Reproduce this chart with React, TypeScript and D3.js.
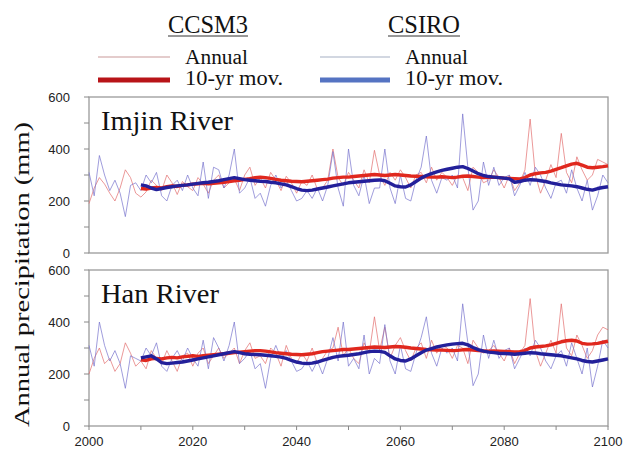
import React from "react";
import * as d3 from "d3";

// years 2000..2100
const years = d3.range(2000, 2101);
const movYears = d3.range(2010, 2101);

const imjinCCSM3 = [
  190, 250, 290, 265, 230, 200, 250, 320, 290, 230,
  215, 235, 280, 260, 240, 300, 270, 225, 275, 255,
  240, 290, 265, 230, 280, 300, 250, 270, 285, 240,
  300, 330, 260, 290, 250, 310, 280, 240, 295, 270,
  230, 275, 260, 300, 245, 250, 280, 400, 290, 260,
  310, 280, 250, 320, 270, 395, 300, 260, 310, 280,
  320, 290, 250, 300, 310, 270, 330, 280, 310, 290,
  260, 300, 290, 240, 330, 310, 270, 280, 320, 290,
  250, 300, 240, 270, 320, 515, 300, 230, 280, 340,
  290, 460, 310, 270, 370, 320, 280, 300, 360, 350,
  340,
];
const imjinCSIRO = [
  310, 220, 375, 300, 240, 280, 230, 140, 260, 270,
  240, 300, 270, 310, 220, 200, 260, 280, 240, 300,
  250, 220, 350, 210, 330, 320, 250, 300, 400, 230,
  250, 290, 210, 230, 180, 260, 300, 250, 280, 240,
  200, 210, 240, 210, 250, 200, 260, 390, 250, 180,
  400, 260, 220, 300, 190, 250, 250, 400, 250, 190,
  300, 210, 200, 280, 330, 450, 280, 230, 290, 280,
  300, 250, 535, 330, 165, 200, 350, 260, 330, 260,
  290, 300, 220, 260, 310, 260, 330, 300, 250, 210,
  270, 280, 230, 320, 250, 200, 280, 165, 220, 300,
  270,
];
const hanCCSM3 = [
  200, 260, 300, 240, 260, 210, 240, 320, 280, 230,
  250, 220, 290, 260, 240, 290, 250, 210, 270, 280,
  230, 280, 300, 240, 270, 300, 260, 280, 300, 240,
  290, 320, 260, 270, 240, 300, 280, 230, 310, 260,
  240, 280, 250, 300, 240, 260, 290, 300, 380, 270,
  300, 260, 240, 320, 280, 420, 290, 380, 260, 310,
  340, 290, 250, 300, 320, 260, 330, 280, 310, 300,
  260, 310, 300, 240, 330, 300, 280, 290, 310, 280,
  250, 300, 240, 280, 310, 490, 290, 230, 280, 330,
  280, 470, 300, 270, 350, 310, 260, 290, 350, 380,
  370,
];
const hanCSIRO = [
  310, 230, 400, 310, 250, 290, 240, 145, 270, 260,
  250, 300, 270, 320, 230, 210, 260, 290, 250, 300,
  260, 230, 330, 220, 340, 300, 250, 310, 400, 240,
  260, 290, 220, 240, 145, 260, 310, 260, 290, 250,
  210, 220, 250, 210, 250, 200, 260, 340, 250, 400,
  230, 260, 220, 350, 200, 260, 240, 390, 250, 200,
  310, 220, 210, 280, 340, 420, 280, 230, 300, 280,
  300, 250, 470, 320, 155, 200, 350, 260, 330, 260,
  290, 300, 220, 260, 300, 270, 330, 300, 250, 220,
  270, 290, 230, 320, 260, 200, 300, 150, 230, 330,
  300,
];

// 10-yr moving averages, 2010..2100
const imjinCCSM3Mov = [
  248, 246, 250, 252, 250, 255, 258, 256, 260, 262,
  265, 266, 268, 266, 268, 270, 272, 275, 278, 280,
  283, 286, 290, 292, 290, 287, 283, 280, 278, 276,
  275, 274, 276, 278, 280, 282, 284, 288, 290, 292,
  292, 294, 296, 298, 300, 302, 300, 298, 300, 302,
  300, 298, 296, 295, 294, 293, 292, 292, 293, 292,
  290, 292, 295, 296, 294, 292, 290, 291, 292, 290,
  288, 287, 286, 285, 290, 300, 305, 308, 310, 315,
  322, 328, 335, 342, 345, 338, 330, 328, 330, 332,
  335,
];
const imjinCSIROMov = [
  262, 258, 250, 244, 248, 252, 255, 258, 260, 262,
  265, 268, 270, 272, 275, 278, 282, 286, 290, 286,
  282, 280, 278, 276, 275, 272, 270, 266, 262, 255,
  248, 242, 240, 242, 246, 250, 254, 258, 262, 266,
  270, 272, 274, 276, 278, 280, 281, 278, 268, 258,
  255, 254, 262, 275, 288, 298, 305, 312, 318, 322,
  326, 330, 332, 325, 315, 305, 298, 294, 292, 290,
  288, 285, 272, 275, 280, 282, 281, 278, 275, 270,
  266, 262, 260, 258, 255, 250, 245, 242, 248, 252,
  255,
];
const hanCCSM3Mov = [
  255, 252, 258, 260, 258, 262, 264, 262, 266, 268,
  270, 268, 270, 272, 274, 276, 278, 280, 282, 284,
  286, 288, 290, 290, 288, 285, 282, 280, 278, 276,
  275, 274, 276, 278, 282, 286, 288, 290, 292, 294,
  294, 296, 298, 300, 302, 304, 303, 302, 304, 306,
  305, 303, 300, 298, 296, 294, 293, 292, 292, 291,
  290, 291, 293, 294, 292, 290, 289, 288, 289, 288,
  287, 286, 285, 286, 290, 300, 304, 306, 308, 312,
  318, 324, 328, 330, 327, 318, 315, 316, 318, 322,
  326,
];
const hanCSIROMov = [
  262, 266, 270, 258, 244, 240, 242, 244, 246, 250,
  254, 258, 262, 266, 270, 274, 278, 282, 286, 282,
  278, 276, 275, 274, 272, 270, 268, 265, 260, 252,
  246, 242, 240, 242, 246, 252, 258, 264, 268, 270,
  272, 275, 278, 282, 286, 288, 287, 283, 270, 258,
  252, 250, 258, 270, 282, 292, 298, 304, 308, 312,
  315, 317, 318, 312, 302, 294, 288, 284, 282, 280,
  279, 278, 276, 278, 280, 282, 281, 278, 276, 274,
  272, 270, 266, 262, 258, 252, 248, 246, 250, 254,
  258,
];

const yTicks = [0, 100, 200, 300, 400, 500, 600];
const yLabels = [0, 200, 400, 600];
const xTicks = [2000, 2020, 2040, 2060, 2080, 2100];

const panels = [
  { name: "Imjin River", top: 97, bottom: 253, ccsm: imjinCCSM3, csiro: imjinCSIRO, ccsmMov: imjinCCSM3Mov, csiroMov: imjinCSIROMov, labelW: 132 },
  { name: "Han River", top: 270, bottom: 426, ccsm: hanCCSM3, csiro: hanCSIRO, ccsmMov: hanCCSM3Mov, csiroMov: hanCSIROMov, labelW: 118 },
];

const annualRed = "rgba(226,110,110,0.7)";
const annualBlue = "rgba(120,115,205,0.7)";
const movRed = "#e0281e";
const movBlue = "#23209a";
const serif = { fontFamily: "'Liberation Serif'" };
const sans = { fontFamily: "'Liberation Sans'" };

export default function App() {
  const W = 627;
  const H = 457;
  const x = d3.scaleLinear().domain([2000, 2100]).range([89, 608]);

  return (
    <svg width={W} height={H} style={{ position: "absolute", left: 0, top: 0, background: "#fff" }}>
      {/* legend */}
      <g style={serif} fill="#111">
        <text x={208} y={33} fontSize={26} textAnchor="middle" textLength={80} lengthAdjust="spacingAndGlyphs">CCSM3</text>
        <line x1={168} x2={248} y1={36} y2={36} stroke="#333" strokeWidth={1} />
        <text x={424} y={33} fontSize={26} textAnchor="middle" textLength={72} lengthAdjust="spacingAndGlyphs">CSIRO</text>
        <line x1={388} x2={460} y1={36} y2={36} stroke="#333" strokeWidth={1} />

        <line x1={98} x2={170} y1={57} y2={57} stroke="#c99a9a" strokeWidth={1.2} />
        <text x={185} y={64} fontSize={20} textLength={63} lengthAdjust="spacingAndGlyphs">Annual</text>
        <line x1={98} x2={170} y1={80} y2={80} stroke="#b81418" strokeWidth={5} />
        <text x={185} y={85} fontSize={20} textLength={98} lengthAdjust="spacingAndGlyphs">10-yr mov.</text>

        <line x1={320} x2={390} y1={57} y2={57} stroke="#a6b0c4" strokeWidth={1.2} />
        <text x={405} y={64} fontSize={20} textLength={63} lengthAdjust="spacingAndGlyphs">Annual</text>
        <line x1={320} x2={390} y1={80} y2={80} stroke="#5573c2" strokeWidth={5} />
        <text x={405} y={85} fontSize={20} textLength={98} lengthAdjust="spacingAndGlyphs">10-yr mov.</text>
      </g>

      {/* y axis title */}
      <text
        transform="translate(29,274.5) rotate(-90)"
        textAnchor="middle"
        style={serif}
        fontSize={22}
        fill="#111"
        textLength={305}
        lengthAdjust="spacingAndGlyphs"
      >
        Annual precipitation (mm)
      </text>

      {panels.map((p) => {
        const y = d3.scaleLinear().domain([0, 600]).range([p.bottom, p.top]);
        const line = d3
          .line<number>()
          .x((_d, i) => x(years[i]))
          .y((d) => y(d));
        const movLine = d3
          .line<number>()
          .x((_d, i) => x(movYears[i]))
          .y((d) => y(d));
        return (
          <g key={p.name}>
            <rect x={89} y={p.top} width={519} height={p.bottom - p.top} fill="#fff" stroke="#9a9a9a" strokeWidth={1.3} />
            {yTicks.map((t) => (
              <line key={t} x1={84} x2={89} y1={y(t)} y2={y(t)} stroke="#888" />
            ))}
            {yLabels.map((t) => (
              <text key={t} x={70} y={y(t) + 4.5} textAnchor="end" style={sans} fontSize={13} fill="#222">
                {t}
              </text>
            ))}
            <path d={line(p.ccsm) ?? ""} fill="none" stroke={annualRed} strokeWidth={1} />
            <path d={line(p.csiro) ?? ""} fill="none" stroke={annualBlue} strokeWidth={1} />
            <path d={movLine(p.ccsmMov) ?? ""} fill="none" stroke={movRed} strokeWidth={3.4} strokeLinejoin="round" />
            <path d={movLine(p.csiroMov) ?? ""} fill="none" stroke={movBlue} strokeWidth={3.4} strokeLinejoin="round" />
            <text x={101} y={p.top + 33} style={serif} fontSize={28} fill="#111" textLength={p.labelW} lengthAdjust="spacingAndGlyphs">
              {p.name}
            </text>
          </g>
        );
      })}

      {/* x axis */}
      {d3.range(2000, 2101, 10).map((t) => (
        <line key={t} x1={x(t)} x2={x(t)} y1={426} y2={430} stroke="#888" />
      ))}
      {xTicks.map((t) => (
        <text key={t} x={x(t)} y={446} textAnchor="middle" style={sans} fontSize={13} fill="#222">
          {t}
        </text>
      ))}
    </svg>
  );
}
